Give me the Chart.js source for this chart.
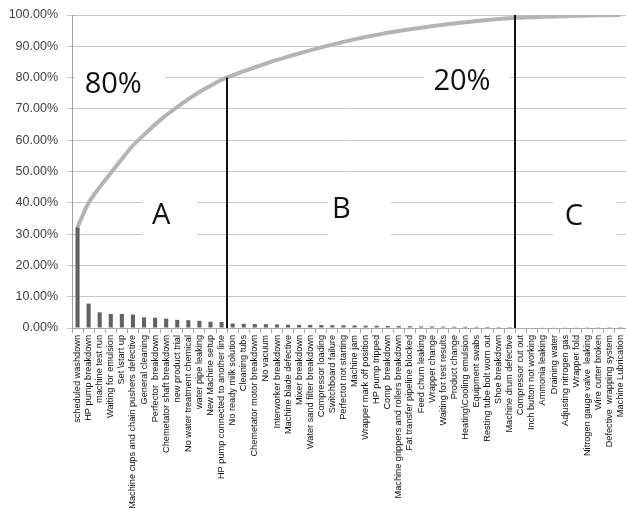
<!DOCTYPE html>
<html>
<head>
<meta charset="utf-8">
<script src="https://cdn.jsdelivr.net/npm/chart.js@4/dist/chart.umd.min.js"></script>
<style>
  html, body { margin: 0; padding: 0; background: #ffffff; }
  canvas { display: block; }
</style>
</head>
<body>
<canvas id="pareto" width="626" height="514"></canvas>
<script>
// Downtime causes, ordered by their share of total downtime
const causes = [
  'scheduled washdown', 'HP pump breakdown', 'machine test run', 'Waiting for emulsion',
  'Set \\start up', 'Machine cups and chain pushers defective', 'General cleaning',
  'Perfector  breakdown', 'Chemetator shaft breakdown', 'new product trial',
  'No water treatment chemical', 'water pipe leaking', 'New Machine setup',
  'HP pump connected to another line', 'No ready milk solution', 'Cleaning tubs',
  'Chemetator motor breakdown', 'No vacuum', 'Interworker breakdown',
  'Machine blade defective', 'Mixer breakdown', 'Water sand filter breakdown',
  'Compressor loading', 'Switchboard failure', 'Perfectot not starting', 'Machine jam',
  'Wrapper mark off position', 'HP pump tripped', 'Comp  breakdown',
  'Machine grippers and rollers breakdown', 'Fat transfer pipeline blocked',
  'Feed churn leaking', 'Wrapper change', 'Waiting for test results', 'Product change',
  'Heating\\Cooling emulsion', 'Equipment swabs', 'Resting tube bolt worn out',
  'Shoe breakdown', 'Machine drum defective', 'Compressor cut out',
  'Inch button not working', 'Ammonia leaking', 'Draining water',
  'Adjusting nitrogen gas', 'Wrapper fold', 'Nitrogen gauge valve  leaking',
  'Wire cutter broken', 'Defective  wrapping system', 'Machine Lubrication'
];

// Share of total downtime per cause (%)
const sharePct = [
  32.2, 7.8, 5.0, 4.5, 4.5, 4.3, 3.4, 3.3, 3.0, 2.6,
  2.5, 2.3, 2.0, 1.9, 1.4, 1.35, 1.25, 1.2, 1.15, 1.05,
  1.0, 1.0, 0.95, 0.9, 0.85, 0.8, 0.75, 0.7, 0.65, 0.6,
  0.55, 0.5, 0.5, 0.45, 0.4, 0.4, 0.35, 0.35, 0.3, 0.3,
  0.15, 0.15, 0.12, 0.12, 0.1, 0.1, 0.08, 0.08, 0.05, 0.05
];

// Running total for the Pareto curve
const cumulativePct = [];
sharePct.reduce((sum, v) => { const s = sum + v; cumulativePct.push(+s.toFixed(2)); return s; }, 0);

// Percentage axis ticks
const yTickValues = [0, 10, 20, 30, 40, 50, 60, 70, 80, 90, 100];

// Class boundaries: drawn between categories, up to the cumulative level
const classCuts = [
  { afterIndex: 13.5, upTo: 80 },
  { afterIndex: 39.5, upTo: 100 }
];

// Zone captions (white boxes) placed in axis units
const zoneNotes = [
  { text: '80%', cx: 3.22, cy: 78.3, box: [-0.25, 7.9, 85.0, 72.9] },
  { text: '20%', cx: 34.7, cy: 79.3, box: [31.2, 39.0, 85.0, 72.9] },
  { text: 'A',   cx: 7.55, cy: 36.5, box: [5.84, 10.8, 44.1, 26.3] },
  { text: 'B',   cx: 23.8, cy: 38.4, box: [22.57, 28.3, 44.1, 26.3] },
  { text: 'C',   cx: 44.8, cy: 36.2, box: [42.9, 48.7, 44.1, 26.3] }
];

const AXIS_FONT = "'Liberation Sans', Arial, sans-serif";
const NOTE_FONT = "'Open Sans', 'Noto Sans', sans-serif";

const paretoOverlay = {
  id: 'paretoOverlay',
  beforeDatasetsDraw(chart) {
    const { ctx, scales: { x, y } } = chart;
    ctx.save();
    ctx.fillStyle = '#ffffff';
    zoneNotes.forEach(n => {
      const x0 = x.getPixelForValue(n.box[0]), x1 = x.getPixelForValue(n.box[1]);
      const y0 = y.getPixelForValue(n.box[2]), y1 = y.getPixelForValue(n.box[3]);
      ctx.fillRect(Math.min(x0, x1), Math.min(y0, y1), Math.abs(x1 - x0), Math.abs(y1 - y0));
    });
    const size = 29;
    ctx.font = `${size}px ${NOTE_FONT}`;
    ctx.fillStyle = '#111111';
    ctx.textAlign = 'center';
    ctx.textBaseline = 'alphabetic';
    zoneNotes.forEach(n => {
      const px = x.getPixelForValue(n.cx);
      const py = y.getPixelForValue(n.cy) + size * 0.357;
      ctx.fillText(n.text, px, py);
    });
    ctx.restore();
  },
  afterDatasetsDraw(chart) {
    const { ctx, scales: { x, y } } = chart;
    ctx.save();
    ctx.strokeStyle = '#111111';
    ctx.lineWidth = 2;
    classCuts.forEach(c => {
      const px = Math.round(x.getPixelForValue(c.afterIndex));
      ctx.beginPath();
      ctx.moveTo(px, y.getPixelForValue(0));
      ctx.lineTo(px, y.getPixelForValue(c.upTo));
      ctx.stroke();
    });
    ctx.restore();
  }
};

new Chart(document.getElementById('pareto'), {
  data: {
    labels: causes,
    datasets: [
      {
        type: 'line',
        data: cumulativePct,
        borderColor: '#b4b4b4',
        borderWidth: 4,
        pointRadius: 0,
        cubicInterpolationMode: 'monotone',
        fill: false,
        order: 1
      },
      {
        type: 'bar',
        data: sharePct,
        backgroundColor: '#626262',
        barPercentage: 0.37,
        categoryPercentage: 1.0,
        order: 2
      }
    ]
  },
  options: {
    responsive: false,
    animation: false,
    devicePixelRatio: 1,
    layout: { padding: { top: 15, right: 0, bottom: 0, left: 0 } },
    plugins: { legend: { display: false }, tooltip: { enabled: false } },
    scales: {
      x: {
        offset: true,
        grid: { display: true, drawOnChartArea: false, drawTicks: true, tickLength: 5, color: '#a8a8a8', offset: true },
        border: { display: true, color: '#a8a8a8', width: 1 },
        ticks: {
          autoSkip: false, maxRotation: 90, minRotation: 90, padding: 2,
          color: '#111111', font: { family: AXIS_FONT, size: 9.2 }
        },
        afterFit(s) { s.height = 186; s.paddingLeft = 0; s.paddingRight = 0; }
      },
      y: {
        min: 0, max: 100,
        afterBuildTicks(s) { s.ticks = yTickValues.map(v => ({ value: v })); },
        grid: { color: '#c6c6c6', lineWidth: 1, drawTicks: true, tickLength: 5 },
        border: { display: true, color: '#a0a0a0', width: 1 },
        ticks: {
          padding: 9, color: '#404040', font: { family: AXIS_FONT, size: 12.5 },
          callback: v => Number(v).toFixed(2) + '%'
        },
        afterFit(s) { s.width = 72; s.paddingTop = 0; s.paddingBottom = 0; }
      }
    }
  },
  plugins: [paretoOverlay]
});
</script>
</body>
</html>
